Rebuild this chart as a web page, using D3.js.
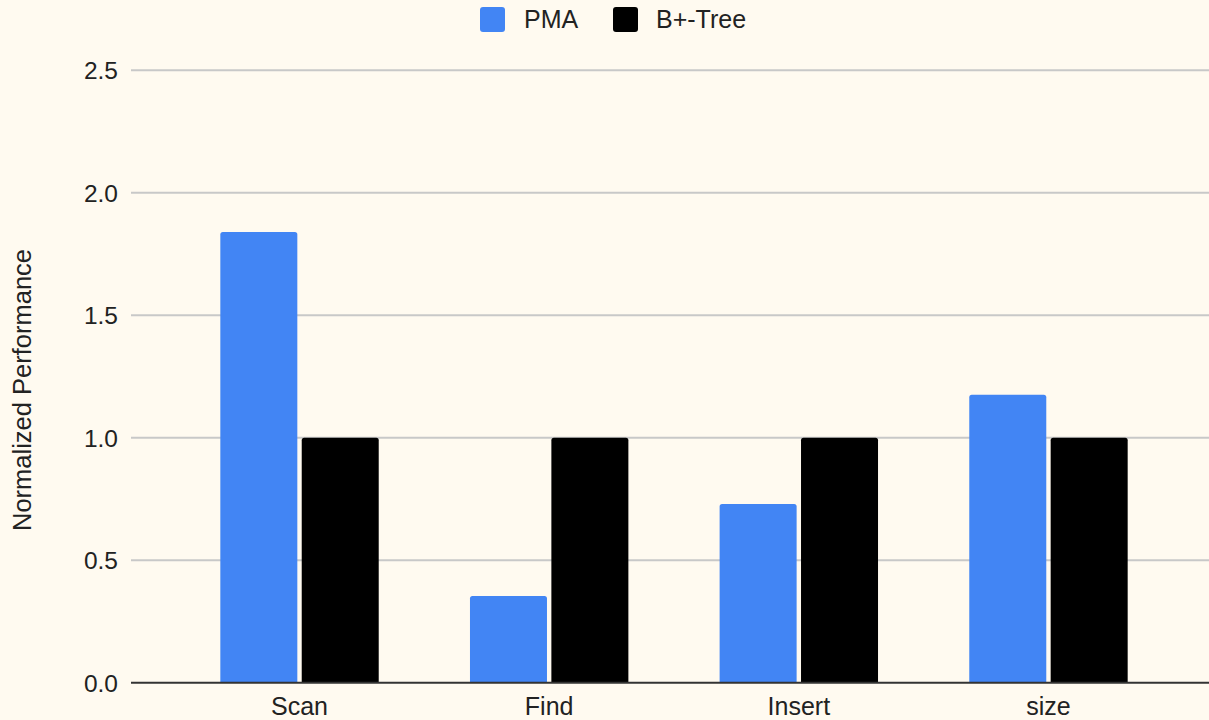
<!DOCTYPE html>
<html>
<head>
<meta charset="utf-8">
<script src="https://cdn.jsdelivr.net/npm/d3@7"></script>
<style>
  html, body { margin: 0; padding: 0; background: #fffaf0; }
  svg { display: block; }
  text { font-family: "Liberation Sans", Arial, sans-serif; fill: #222; }
</style>
</head>
<body>
<svg id="chart" width="1209" height="720"></svg>
<script>
// Normalized performance of a packed-memory array vs. a B+-Tree
const categories = ["Scan", "Find", "Insert", "size"];
const seriesNames = ["PMA", "B+-Tree"];
const pmaValues = [1.84, 0.354, 0.73, 1.176];
const btreeValues = [1.0, 1.0, 1.0, 1.0];
const yTicks = [0, 0.5, 1.0, 1.5, 2.0, 2.5];
const colors = ["#4285f4", "#000000"];

const svg = d3.select("#chart");

const plotLeft = 131, plotRight = 1217;
const y = d3.scaleLinear().domain([0, 2.5]).range([682.7, 70.3]);
const x0 = d3.scaleBand().domain(categories).range([174.7, 1173.3]).padding(0);
const groupW = x0.bandwidth() * 0.6345;
const groupOff = (x0.bandwidth() - groupW) / 2;
const x1 = d3.scaleBand().domain(seriesNames)
  .range([groupOff, groupOff + groupW]).paddingInner(0.054).paddingOuter(0);

// horizontal gridlines
svg.append("g").selectAll("line").data(yTicks.filter(d => d > 0)).join("line")
  .attr("x1", plotLeft).attr("x2", plotRight)
  .attr("y1", d => y(d)).attr("y2", d => y(d))
  .attr("stroke", "#c8c8c8").attr("stroke-width", 2);

// y tick labels
svg.append("g").selectAll("text").data(yTicks).join("text")
  .attr("x", 118).attr("y", d => y(d)).attr("dy", "0.36em")
  .attr("text-anchor", "end").attr("font-size", 24.5)
  .text(d => d3.format(".1f")(d));

// y axis title
svg.append("text")
  .attr("transform", "translate(31,390) rotate(-90)")
  .attr("text-anchor", "middle").attr("font-size", 25.5)
  .text("Normalized Performance");

// bars with slightly rounded top corners
function barPath(xl, w, yt, yb, r) {
  r = Math.min(r, w / 2, (yb - yt) / 2);
  return `M${xl},${yb}V${yt + r}Q${xl},${yt} ${xl + r},${yt}H${xl + w - r}Q${xl + w},${yt} ${xl + w},${yt + r}V${yb}Z`;
}
const rows = categories.map((c, i) => ({
  cat: c,
  vals: [{ s: seriesNames[0], v: pmaValues[i], c: colors[0] },
         { s: seriesNames[1], v: btreeValues[i], c: colors[1] }]
}));
svg.append("g").selectAll("g").data(rows).join("g")
  .attr("transform", d => `translate(${x0(d.cat)},0)`)
  .selectAll("path").data(d => d.vals).join("path")
  .attr("fill", d => d.c)
  .attr("d", d => barPath(x1(d.s), x1.bandwidth(), y(d.v), y(0), 2.5));

// baseline
svg.append("line")
  .attr("x1", plotLeft).attr("x2", plotRight)
  .attr("y1", y(0)).attr("y2", y(0))
  .attr("stroke", "#333").attr("stroke-width", 2);

// x category labels
svg.append("g").selectAll("text").data(categories).join("text")
  .attr("x", d => x0(d) + x0.bandwidth() / 2).attr("y", 715)
  .attr("text-anchor", "middle").attr("font-size", 25)
  .text(d => d);

// legend
const legendItems = [
  { name: seriesNames[0], color: colors[0], x: 480, tx: 524 },
  { name: seriesNames[1], color: colors[1], x: 613, tx: 656 }
];
const lg = svg.append("g").selectAll("g").data(legendItems).join("g");
lg.append("rect").attr("x", d => d.x).attr("y", 7).attr("width", 25).attr("height", 25)
  .attr("rx", 3).attr("fill", d => d.color);
lg.append("text").attr("x", d => d.tx).attr("y", 28).attr("font-size", 25)
  .text(d => d.name);
</script>
</body>
</html>
